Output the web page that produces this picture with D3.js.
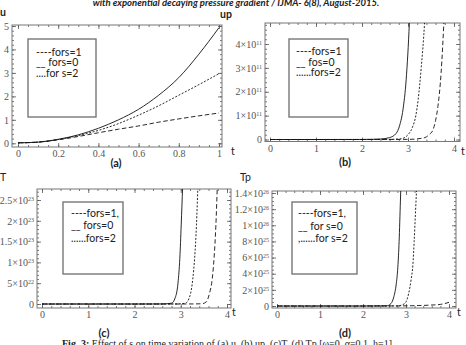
<!DOCTYPE html>
<html>
<head>
<meta charset="utf-8">
<script src="https://cdn.jsdelivr.net/npm/d3@7"></script>
<style>
  body { margin: 0; background: #fff; }
  svg { display: block; }
  .tick text { font-family: "Liberation Serif", serif; font-size: 10px; fill: #555; }
  .tick line { stroke: #555; stroke-width: 0.8; }
  .sans { font-family: Lato, "Liberation Sans", sans-serif; fill: #222; }
</style>
</head>
<body>
<svg id="chart" width="466" height="345"></svg>
<script>
// ---------- values ----------

// (a) u vs t
const tA   = [0, 0.1, 0.2, 0.3, 0.4, 0.5, 0.6, 0.7, 0.8, 0.9, 1.0];
const uS0  = [0.02, 0.05, 0.17, 0.36, 0.64, 1.0, 1.45, 2.05, 2.8, 3.8, 4.93];
const uS2  = [0.02, 0.05, 0.16, 0.33, 0.55, 0.84, 1.2, 1.6, 2.05, 2.5, 2.97];
const uS1  = [0.02, 0.05, 0.15, 0.29, 0.45, 0.6, 0.74, 0.9, 1.04, 1.17, 1.29];

// (b) up vs t  (units of 1e11)
const tB0  = [0, 1, 2, 2.4, 2.6, 2.74, 2.82, 2.89, 2.96, 3.03, 3.08];
const upS0 = [0, 0, 0.003, 0.02, 0.08, 0.25, 0.6, 1.24, 2.5, 4.9, 7.5];
const tB2  = [0, 1, 2, 2.6, 2.85, 3.0, 3.1, 3.17, 3.22, 3.29, 3.36, 3.4];
const upS2 = [0, 0, 0, 0.005, 0.03, 0.2, 0.53, 1.0, 1.66, 3.07, 4.9, 6.5];
const tB1  = [0, 1, 2, 3, 3.3, 3.4, 3.47, 3.54, 3.6, 3.65, 3.72, 3.78, 3.82];
const upS1 = [0, 0, 0, 0.005, 0.05, 0.11, 0.22, 0.39, 0.8, 1.38, 2.8, 4.9, 6.5];

// (c) T vs t  (units of 1e23)
const tC0  = [0, 1, 2, 2.6, 2.8, 2.88, 2.94, 2.98, 3.01, 3.04, 3.07];
const TS0  = [0, 0, 0, 0.001, 0.02, 0.15, 0.5, 1.1, 1.9, 2.8, 3.6];
const tC2  = [0, 1, 2, 2.9, 3.1, 3.2, 3.26, 3.3, 3.34, 3.37, 3.4];
const TS2  = [0, 0, 0, 0.001, 0.02, 0.2, 0.6, 1.1, 1.9, 2.8, 3.6];
const tC1  = [0, 1, 2, 3, 3.45, 3.55, 3.62, 3.68, 3.72, 3.76, 3.79, 3.82];
const TS1  = [0, 0, 0, 0, 0.005, 0.05, 0.25, 0.6, 1.1, 1.9, 2.8, 3.6];

// (d) Tp vs t  (units of 1e25)
const tD0  = [0, 1, 2, 2.55, 2.65, 2.72, 2.77, 2.81, 2.84, 2.87, 2.9];
const TpS0 = [0, 0, 0, 0.02, 0.3, 1.2, 2.6, 4.8, 8, 13, 18];
const tD2  = [0, 1, 2, 2.8, 2.97, 3.06, 3.12, 3.16, 3.19, 3.22, 3.25, 3.28];
const TpS2 = [0, 0, 0, 0.01, 0.3, 1.5, 3.3, 5.1, 8, 11.5, 15, 19];
const tD1  = [0, 1, 2, 3, 3.3, 3.6, 3.8, 3.9, 4.0];
const TpS1 = [0, 0, 0, 0.02, 0.06, 0.12, 0.2, 0.3, 0.45];

// tick values and labels
const xTicksA = [0, 0.2, 0.4, 0.6, 0.8, 1];
const xLabA   = ["0", "0.2", "0.4", "0.6", "0.8", "1"];
const yTicksA = [0, 1, 2, 3, 4, 5];
const yLabA   = [["0"], ["1"], ["2"], ["3"], ["4"], ["5"]];
const xTicksT = [0, 1, 2, 3, 4];
const xLabT   = ["0", "1", "2", "3", "4"];
const yTicksB = [0, 1, 2, 3, 4];
const yLabB   = [["0"], ["1×10", "11"], ["2×10", "11"], ["3×10", "11"], ["4×10", "11"]];
const yTicksC = [0, 0.5, 1, 1.5, 2, 2.5];
const yLabC   = [["0"], ["5×10", "22"], ["1×10", "23"], ["1.5×10", "23"], ["2×10", "23"], ["2.5×10", "23"]];
const yTicksD = [0, 2, 4, 6, 8, 10, 12, 14];
const yLabD   = [["0"], ["2×10", "25"], ["4×10", "25"], ["6×10", "25"], ["8×10", "25"],
                 ["1×10", "26"], ["1.2×10", "26"], ["1.4×10", "26"]];

// legend texts
const legA = ["----fors=1", "__ fors=0", "....for s=2"];
const legB = ["----fors=1", "__ fos=0", "......fors=2"];
const legC = ["----fors=1,", "__ fors=0", "......fors=2"];
const legD = ["----fors=1,", "__ for s=0", ",......for s=2"];

const DASH = { s0: null, s2: "2,1.6", s1: "4.5,2.5" };

const svg = d3.select("#chart");

function zip(t, v) { return t.map((d, i) => [d, v[i]]); }

function minorValues(scale, lo, hi, step) {
  const a = scale.invert(lo), b = scale.invert(hi);
  const from = Math.min(a, b), to = Math.max(a, b);
  const out = [];
  for (let k = Math.ceil(from / step - 1e-9); k * step <= to + 1e-9; k++) out.push(+(k * step).toFixed(6));
  return out;
}

function drawPanel(p, idx) {
  const [fx0, fy0, fx1, fy1] = p.frame;
  const x = d3.scaleLinear().domain(p.xDomain).range(p.xRange);
  const y = d3.scaleLinear().domain(p.yDomain).range(p.yRange);
  const g = svg.append("g");

  // minor + major ticks on all four sides, pointing inward
  const xMin = minorValues(x, fx0, fx1, p.xMinor);
  const yMin = minorValues(y, fy1, fy0, p.yMinor);
  const sides = [
    { ax: d3.axisBottom, s: x, at: `translate(0,${fy1})` },
    { ax: d3.axisTop,    s: x, at: `translate(0,${fy0})` },
    { ax: d3.axisLeft,   s: y, at: `translate(${fx0},0)` },
    { ax: d3.axisRight,  s: y, at: `translate(${fx1},0)` }
  ];
  sides.forEach((sd, i) => {
    const isX = i < 2;
    g.append("g").attr("transform", sd.at)
      .call(sd.ax(sd.s).tickValues(isX ? xMin : yMin).tickSize(-2).tickFormat(""))
      .call(a => a.select(".domain").remove());
    g.append("g").attr("transform", sd.at)
      .call(sd.ax(sd.s).tickValues(isX ? p.xTicks : p.yTicks).tickSize(-4).tickPadding(3).tickFormat(""))
      .call(a => a.select(".domain").remove())
      .call(a => {
        if (i === 0) a.selectAll(".tick text").text((d, j) => p.xLab[j]);
        if (i === 2) a.selectAll(".tick text").each(function (d, j) {
          const lab = p.yLab[j];
          const t = d3.select(this).text(lab[0]);
          if (lab[1]) t.append("tspan").attr("dy", "-0.5em").attr("font-size", "6px").text(lab[1]);
        });
      });
  });

  g.append("rect")
    .attr("x", fx0).attr("y", fy0).attr("width", fx1 - fx0).attr("height", fy1 - fy0)
    .attr("fill", "none").attr("stroke", "#777").attr("stroke-width", 1);

  // curves
  const clipId = "clip" + idx;
  svg.append("clipPath").attr("id", clipId).append("rect")
    .attr("x", fx0).attr("y", fy0).attr("width", fx1 - fx0).attr("height", fy1 - fy0);
  const line = d3.line().x(d => x(d[0])).y(d => y(d[1])).curve(d3.curveMonotoneX);
  g.append("g").attr("clip-path", `url(#${clipId})`)
    .selectAll("path").data(p.series).join("path")
    .attr("d", d => line(d.pts))
    .attr("fill", "none").attr("stroke", "#111").attr("stroke-width", 0.9)
    .attr("stroke-dasharray", d => DASH[d.key]);

  // legend
  const [lx0, ly0, lx1, ly1] = p.legBox;
  g.append("rect").attr("x", lx0).attr("y", ly0).attr("width", lx1 - lx0).attr("height", ly1 - ly0)
    .attr("fill", "#fff").attr("stroke", "#777").attr("stroke-width", 1.4);
  g.selectAll(".leg").data(p.leg).join("text").attr("class", "sans")
    .attr("x", p.legX).attr("y", (d, i) => p.legY[i])
    .attr("font-size", "10.5px").text(d => d);

  // axis labels and panel letter
  p.labels.forEach(l => {
    g.append("text").attr("class", "sans").attr("x", l[1]).attr("y", l[2])
      .attr("font-size", l[3] || "10.5px").attr("text-anchor", l[4] || "start")
      .attr("font-weight", l[5] || "normal").text(l[0]);
  });
}

const panels = [
  {
    frame: [12, 25, 222, 147], xDomain: [0, 1], xRange: [18, 219], yDomain: [0, 5], yRange: [143.3, 26],
    xTicks: xTicksA, xLab: xLabA, xMinor: 0.05, yTicks: yTicksA, yLab: yLabA, yMinor: 0.2,
    series: [{ key: "s0", pts: zip(tA, uS0) }, { key: "s2", pts: zip(tA, uS2) }, { key: "s1", pts: zip(tA, uS1) }],
    legBox: [28, 39, 96, 117], legX: 36, legY: [55.5, 66, 76.5], leg: legA,
    labels: [["u", 0, 16, "10.5px", "start", "bold"], ["t", 231, 155],
             ["(a)", 116, 166.5, "11px", "middle", "bold"]]
  },
  {
    frame: [265, 23, 460, 141.5], xDomain: [0, 4], xRange: [270, 454], yDomain: [0, 4], yRange: [139.5, 44],
    xTicks: xTicksT, xLab: xLabT, xMinor: 0.2, yTicks: yTicksB, yLab: yLabB, yMinor: 0.2,
    series: [{ key: "s0", pts: zip(tB0, upS0) }, { key: "s2", pts: zip(tB2, upS2) }, { key: "s1", pts: zip(tB1, upS1) }],
    legBox: [289, 39, 348, 117], legX: 296, legY: [55, 66, 75.5], leg: legB,
    labels: [["up", 220, 18, "10.5px", "start", "bold"], ["t", 461, 155],
             ["(b)", 345, 166, "11px", "middle", "bold"]]
  },
  {
    frame: [37, 189, 231, 308], xDomain: [0, 4], xRange: [42, 227], yDomain: [0, 2.5], yRange: [304, 200],
    xTicks: xTicksT, xLab: xLabT, xMinor: 0.2, yTicks: yTicksC, yLab: yLabC, yMinor: 0.1,
    series: [{ key: "s0", pts: zip(tC0, TS0) }, { key: "s2", pts: zip(tC2, TS2) }, { key: "s1", pts: zip(tC1, TS1) }],
    legBox: [63, 202, 123, 274], legX: 71, legY: [216.5, 229, 241.5], leg: legC,
    labels: [["T", 0, 181], ["t", 232, 316], ["(c)", 104, 337, "11px", "middle", "bold"]]
  },
  {
    frame: [272, 191, 456, 308], xDomain: [0, 4], xRange: [277, 449], yDomain: [0, 14], yRange: [306, 193],
    xTicks: xTicksT, xLab: xLabT, xMinor: 0.2, yTicks: yTicksD, yLab: yLabD, yMinor: 0.5,
    series: [{ key: "s0", pts: zip(tD0, TpS0) }, { key: "s2", pts: zip(tD2, TpS2) }, { key: "s1", pts: zip(tD1, TpS1) }],
    legBox: [292, 202, 357, 274], legX: 298, legY: [217, 230, 241.5], leg: legD,
    labels: [["Tp", 240, 181], ["t", 457, 316], ["(d)", 345, 337, "11px", "middle", "bold"]]
  }
];

panels.forEach(drawPanel);

// running header and caption (both cut by the page edge in the source)
svg.append("text").attr("class", "sans").attr("x", 236).attr("y", 6)
  .attr("text-anchor", "middle").attr("font-size", "9.5px")
  .attr("font-weight", "bold").attr("font-style", "italic")
  .text("with exponential decaying pressure gradient / IJMA- 6(8), August-2015.");

const cap = svg.append("text").attr("x", 62).attr("y", 346.5)
  .attr("font-family", "'Liberation Serif', serif").attr("font-size", "10px").attr("fill", "#222");
cap.append("tspan").attr("font-weight", "bold").text("Fig. 3: ");
cap.append("tspan").text("Effect of s on time variation of (a) u, (b) up, (c)T, (d) Tp [ω=0, α=0.1, h=1]");
</script>
</body>
</html>
